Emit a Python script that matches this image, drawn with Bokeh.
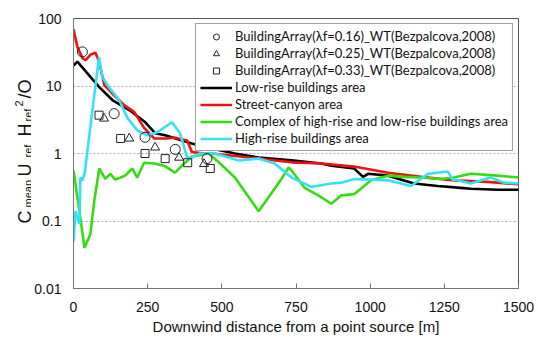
import numpy as np
from bokeh.plotting import figure
from bokeh.layouts import row
from bokeh.models import Range1d, Legend, LegendItem, FixedTicker, Label
from bokeh.embed import file_html
from bokeh.resources import INLINE

# ---- data ----
low_x = [0, 13, 86, 131, 188, 242, 275, 309, 366, 399, 433, 466, 544, 624, 735, 835, 869, 946, 976, 993, 1060, 1148, 1228, 1305, 1339, 1430, 1500]
low_y = [20, 23, 9.7, 6.2, 4.4, 2.9, 2.0, 1.86, 1.56, 1.41, 1.28, 1.19, 1.0, 0.87, 0.79, 0.71, 0.66, 0.60, 0.45, 0.50, 0.47, 0.36, 0.33, 0.31, 0.30, 0.29, 0.29]

street_x = [0, 13, 30, 40, 57, 74, 86, 104, 137, 171, 205, 238, 272, 315, 339, 383, 399, 440, 466, 545, 624, 735, 835, 946, 1060, 1171, 1282, 1396, 1500]
street_y = [69, 38, 26, 24, 29, 31, 23, 10.3, 7.3, 5.2, 4.1, 2.4, 1.67, 1.67, 1.73, 1.56, 1.05, 1.0, 1.0, 0.92, 0.84, 0.74, 0.71, 0.64, 0.52, 0.45, 0.40, 0.38, 0.35]

complex_x = [0, 20, 37, 57, 70, 87, 107, 124, 141, 174, 198, 215, 238, 272, 305, 342, 376, 399, 456, 483, 544, 624, 701, 725, 735, 779, 825, 869, 903, 946, 1003, 1060, 1114, 1171, 1238, 1282, 1339, 1430, 1500]
complex_y = [0.56, 0.14, 0.04, 0.064, 0.2, 0.60, 0.42, 0.50, 0.41, 0.47, 0.60, 0.44, 0.73, 0.71, 0.66, 0.52, 0.73, 0.90, 1.0, 0.79, 0.44, 0.14, 0.42, 0.62, 0.56, 0.31, 0.24, 0.18, 0.24, 0.25, 0.40, 0.47, 0.45, 0.44, 0.42, 0.44, 0.50, 0.47, 0.44]

high_x = [0, 7, 20, 23, 30, 37, 40, 86, 97, 121, 154, 181, 215, 248, 282, 332, 359, 383, 399, 426, 477, 557, 624, 678, 735, 802, 869, 903, 946, 1003, 1060, 1138, 1195, 1262, 1279, 1289, 1339, 1406, 1450, 1500]
high_y = [0.05, 0.14, 0.09, 0.44, 0.40, 0.50, 0.62, 27, 13.6, 9.4, 6.2, 3.4, 2.2, 1.86, 2.06, 2.9, 2.0, 0.87, 0.87, 1.0, 1.0, 0.79, 0.84, 0.71, 0.44, 0.32, 0.36, 0.37, 0.42, 0.41, 0.40, 0.33, 0.50, 0.54, 0.40, 0.41, 0.36, 0.44, 0.37, 0.36]

c016_x = [30, 137, 241, 343, 450]
c016_y = [32, 3.9, 1.74, 1.15, 0.84]
c025_x = [103, 188, 275, 356, 440]
c025_y = [3.3, 1.67, 1.23, 0.87, 0.70]
c033_x = [86, 159, 241, 309, 385, 461]
c033_y = [3.7, 1.67, 1.0, 0.84, 0.73, 0.60]

x_ticks = [0, 250, 500, 750, 1000, 1250, 1500]
y_ticks = [0.01, 0.1, 1, 10, 100]
y_tick_labels = {0.01: "0.01", 0.1: "0.1", 1: "1", 10: "10", 100: "100"}

labels = [
    "BuildingArray(λf=0.16)_WT(Bezpalcova,2008)",
    "BuildingArray(λf=0.25)_WT(Bezpalcova,2008)",
    "BuildingArray(λf=0.33)_WT(Bezpalcova,2008)",
    "Low-rise buildings area",
    "Street-canyon area",
    "Complex of high-rise and low-rise buildings area",
    "High-rise buildings area",
]

# y-axis title pieces (text, font px)
ylabel_parts = [("C", 18), ("mean", 11), ("U", 18), ("ref", 11), ("H", 18), ("ref", 11), ("2", 11), ("/Q", 18)]

TICK_FONT = "Liberation Sans"
LEFT_W = 31
W = 538
H = 338
FRAME_BOTTOM = 288  # frames of the row are aligned: strip frame bottom equals main frame bottom

# ---- left strip carrying the rotated y-axis title ----
lp = figure(width=LEFT_W, height=H, output_backend="svg", toolbar_location=None,
            x_range=Range1d(0, LEFT_W), y_range=Range1d(0, H),
            min_border_left=0, min_border_right=0, min_border_top=0, min_border_bottom=0)
lp.axis.visible = False
lp.grid.visible = False
lp.outline_line_color = None
lp.background_fill_color = "white"
lp.border_fill_color = "white"

# layout of pieces: (baseline x, start y) in pixels from the top-left
piece_pos = [(24, 223), (27.5, 207), (24, 176), (27.5, 157), (24, 136), (27.5, 121), (18, 106), (24, 98)]
for (txt, fs), (bx, ys) in zip(ylabel_parts, piece_pos):
    lp.add_layout(Label(x=bx, y=FRAME_BOTTOM - ys, x_units="screen", y_units="screen", text=txt,
                        angle=np.pi / 2, text_font=TICK_FONT, text_font_size=f"{fs}px",
                        text_align="left", text_baseline="alphabetic", text_color="#111111"))

# ---- main plot ----
p = figure(width=W - LEFT_W, height=H, output_backend="svg", toolbar_location=None,
           y_axis_type="log", x_range=Range1d(0, 1500), y_range=Range1d(0.01, 100),
           min_border_left=71 - LEFT_W, min_border_right=20, min_border_top=18, min_border_bottom=50)
p.background_fill_color = "white"
p.border_fill_color = "white"
p.outline_line_color = "#555555"
p.outline_line_width = 1

p.xgrid.grid_line_color = None
p.ygrid.grid_line_color = "#aaaaaa"
p.ygrid.grid_line_dash = "2 2"
p.ygrid.grid_line_width = 1

p.xaxis.ticker = FixedTicker(ticks=x_ticks)
p.yaxis.ticker = FixedTicker(ticks=y_ticks)
p.yaxis.major_label_overrides = y_tick_labels
for ax in (p.xaxis, p.yaxis):
    ax.axis_line_color = "#777777"
    ax.major_label_text_font = TICK_FONT
    ax.major_label_text_font_size = "14px"
    ax.major_label_text_color = "#111111"
    ax.minor_tick_line_color = None
    ax.minor_tick_in = 0
    ax.minor_tick_out = 0
p.xaxis.major_tick_in = 5
p.xaxis.major_tick_out = 0
p.xaxis.major_tick_line_color = "#777777"
p.xaxis.major_label_standoff = 13
p.yaxis.major_tick_line_color = None
p.yaxis.major_tick_in = 0
p.yaxis.major_tick_out = 0
p.yaxis.major_label_standoff = 12

p.xaxis.axis_label = "Downwind distance from a point source [m]"
p.xaxis.axis_label_text_font = TICK_FONT
p.xaxis.axis_label_text_font_style = "normal"
p.xaxis.axis_label_text_font_size = "15px"
p.xaxis.axis_label_standoff = 3
p.xaxis.axis_label_text_color = "#111111"

lw = 2.6
r_low = p.line(low_x, low_y, line_color="black", line_width=lw)
r_street = p.line(street_x, street_y, line_color="#f01010", line_width=lw)
r_complex = p.line(complex_x, complex_y, line_color="#33dd11", line_width=lw)
r_high = p.line(high_x, high_y, line_color="#33e3f5", line_width=lw)

r_c1 = p.scatter(c016_x, c016_y, marker="circle", size=10, fill_color=None, line_color="#222222", line_width=1)
r_c2 = p.scatter(c025_x, c025_y, marker="triangle", size=9, fill_color=None, line_color="#222222", line_width=1)
r_c3 = p.scatter(c033_x, c033_y, marker="square", size=8, fill_color=None, line_color="#222222", line_width=1)

renderers = [r_c1, r_c2, r_c3, r_low, r_street, r_complex, r_high]
items = [LegendItem(label=l, renderers=[r]) for l, r in zip(labels, renderers)]
leg = Legend(items=items, location="top_right")
leg.margin = 5
leg.padding = 4
leg.spacing = 1
leg.label_height = 15
leg.glyph_height = 15
leg.glyph_width = 32
leg.label_standoff = 3
leg.label_text_font = "Lato"
leg.label_text_font_size = "13px"
leg.label_text_color = "#111111"
leg.border_line_color = "#444444"
leg.border_line_width = 1
leg.background_fill_alpha = 1
p.add_layout(leg)

layout = row(lp, p, spacing=0)
html = file_html(layout, INLINE)
open("out.html", "w").write(html)
